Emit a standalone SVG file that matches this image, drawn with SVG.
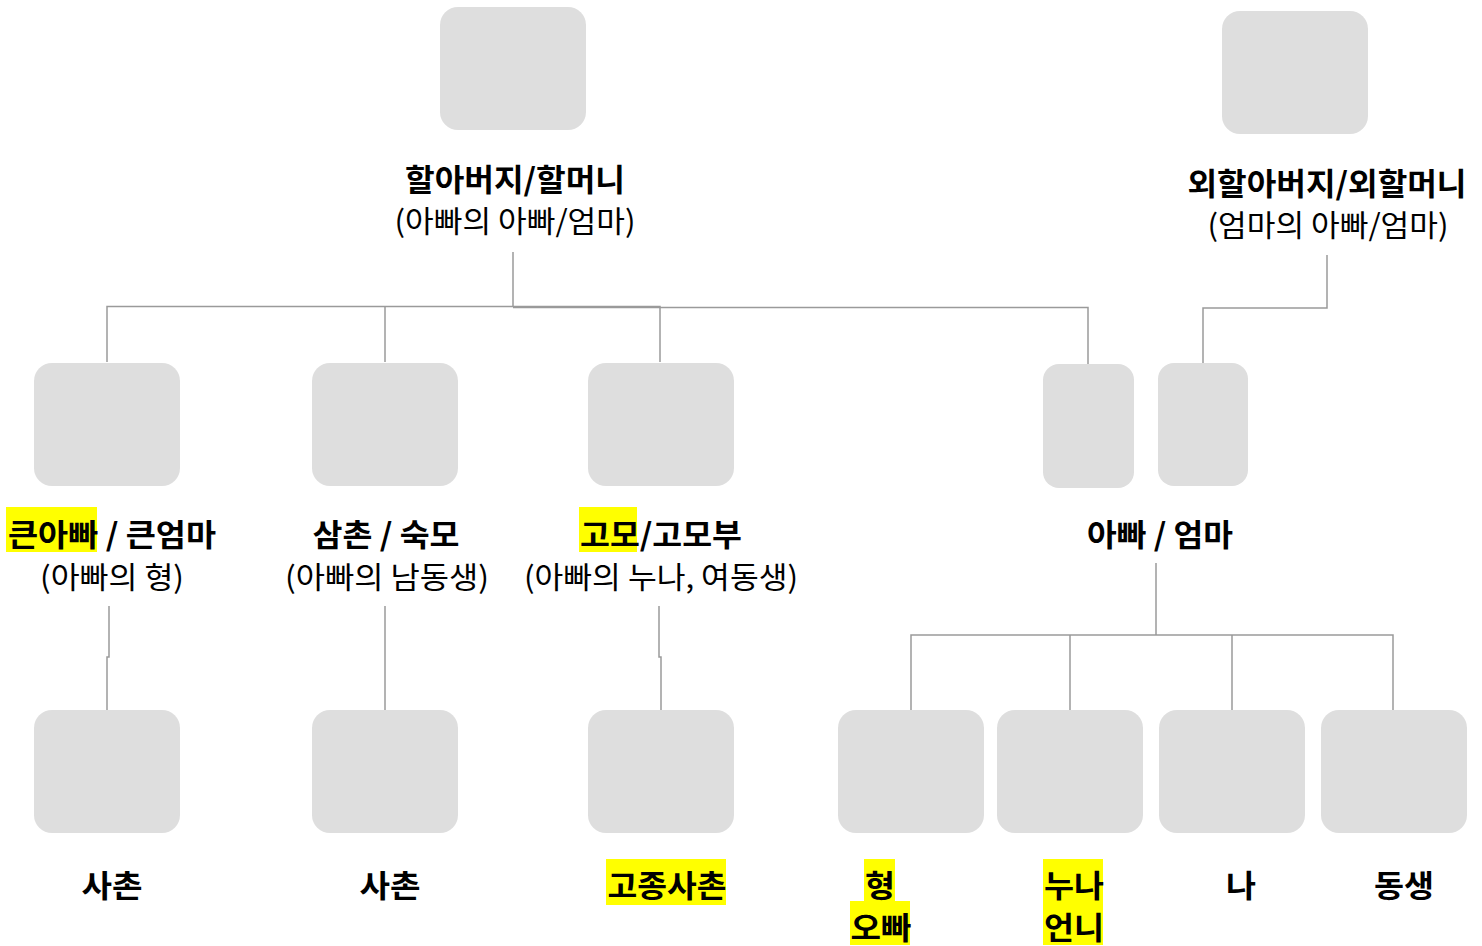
<svg xmlns="http://www.w3.org/2000/svg" width="1482" height="946" viewBox="0 0 1482 946">
<style>
.box{fill:#dedede}
.ln{fill:none;stroke:#9a9a9a;stroke-width:1.5}
.hl{fill:#ffff00}
text{font-family:"Noto Sans CJK KR","Noto Sans",sans-serif;fill:#000;text-anchor:middle}
.b{font-weight:bold;font-size:31px}
.r{font-weight:normal;font-size:30px}
</style>
<rect width="1482" height="946" fill="#fff"/>
<g id="connectors">
<path class="ln" d="M107,362 V306.5 H660 V362 M385,306.5 V362 M513,252 V306.5 M513,307.5 H1088 V364"/>
<path class="ln" d="M1327,255 V308 H1203 V363"/>
<path class="ln" d="M109,606 V657 H107 V710 M385,606 V710 M659,606 V657 H661 V710"/>
<path class="ln" d="M1156,563 V635 M911,710 V635 H1393 V710 M1070,635 V710 M1232,635 V710"/>
</g>
<g id="grandparents">
<rect class="box" x="440" y="7" width="146" height="123" rx="18"/>
<text class="b" x="515" y="191" textLength="220" lengthAdjust="spacingAndGlyphs">할아버지/할머니</text>
<text class="r" x="515" y="232" textLength="241" lengthAdjust="spacingAndGlyphs">(아빠의 아빠/엄마)</text>
</g>
<g id="maternal-grandparents">
<rect class="box" x="1222" y="11" width="146" height="123" rx="18"/>
<text class="b" x="1327" y="195" textLength="279" lengthAdjust="spacingAndGlyphs">외할아버지/외할머니</text>
<text class="r" x="1328" y="236" textLength="241" lengthAdjust="spacingAndGlyphs">(엄마의 아빠/엄마)</text>
</g>
<g id="uncle-elder">
<rect class="box" x="34" y="363" width="146" height="123" rx="18"/>
<rect class="hl" x="6" y="507" width="91" height="45"/>
<text class="b" x="112" y="546" textLength="208" lengthAdjust="spacingAndGlyphs">큰아빠 / 큰엄마</text>
<text class="r" x="112" y="588" textLength="144" lengthAdjust="spacingAndGlyphs">(아빠의 형)</text>
</g>
<g id="uncle-younger">
<rect class="box" x="312" y="363" width="146" height="123" rx="18"/>
<text class="b" x="386" y="546" textLength="147" lengthAdjust="spacingAndGlyphs">삼촌 / 숙모</text>
<text class="r" x="387" y="588" textLength="204" lengthAdjust="spacingAndGlyphs">(아빠의 남동생)</text>
</g>
<g id="aunt">
<rect class="box" x="588" y="363" width="146" height="123" rx="18"/>
<rect class="hl" x="579" y="507" width="58" height="45"/>
<text class="b" x="661" y="546" textLength="162" lengthAdjust="spacingAndGlyphs">고모/고모부</text>
<text class="r" x="661" y="588" textLength="274" lengthAdjust="spacingAndGlyphs">(아빠의 누나, 여동생)</text>
</g>
<g id="parents">
<rect class="box" x="1043" y="364" width="91" height="124" rx="16"/>
<rect class="box" x="1158" y="363" width="90" height="123" rx="16"/>
<text class="b" x="1160" y="546" textLength="146" lengthAdjust="spacingAndGlyphs">아빠 / 엄마</text>
</g>
<g id="cousin1">
<rect class="box" x="34" y="710" width="146" height="123" rx="18"/>
<text class="b" x="112" y="897" textLength="61" lengthAdjust="spacingAndGlyphs">사촌</text>
</g>
<g id="cousin2">
<rect class="box" x="312" y="710" width="146" height="123" rx="18"/>
<text class="b" x="390" y="897" textLength="61" lengthAdjust="spacingAndGlyphs">사촌</text>
</g>
<g id="cousin3">
<rect class="box" x="588" y="710" width="146" height="123" rx="18"/>
<rect class="hl" x="606" y="859" width="120" height="46"/>
<text class="b" x="667" y="897" textLength="119" lengthAdjust="spacingAndGlyphs">고종사촌</text>
</g>
<g id="elder-brother">
<rect class="box" x="838" y="710" width="146" height="123" rx="18"/>
<rect class="hl" x="864" y="859" width="31" height="43"/>
<rect class="hl" x="850" y="901" width="60" height="44"/>
<text class="b" x="880" y="897" textLength="30" lengthAdjust="spacingAndGlyphs">형</text>
<text class="b" x="881" y="939" textLength="61" lengthAdjust="spacingAndGlyphs">오빠</text>
</g>
<g id="elder-sister">
<rect class="box" x="997" y="710" width="146" height="123" rx="18"/>
<rect class="hl" x="1043" y="859" width="60" height="86"/>
<text class="b" x="1074" y="897" textLength="60" lengthAdjust="spacingAndGlyphs">누나</text>
<text class="b" x="1074" y="939" textLength="60" lengthAdjust="spacingAndGlyphs">언니</text>
</g>
<g id="me">
<rect class="box" x="1159" y="710" width="146" height="123" rx="18"/>
<text class="b" x="1241" y="897" textLength="30" lengthAdjust="spacingAndGlyphs">나</text>
</g>
<g id="sibling">
<rect class="box" x="1321" y="710" width="146" height="123" rx="18"/>
<text class="b" x="1404" y="897" textLength="60" lengthAdjust="spacingAndGlyphs">동생</text>
</g>
</svg>
